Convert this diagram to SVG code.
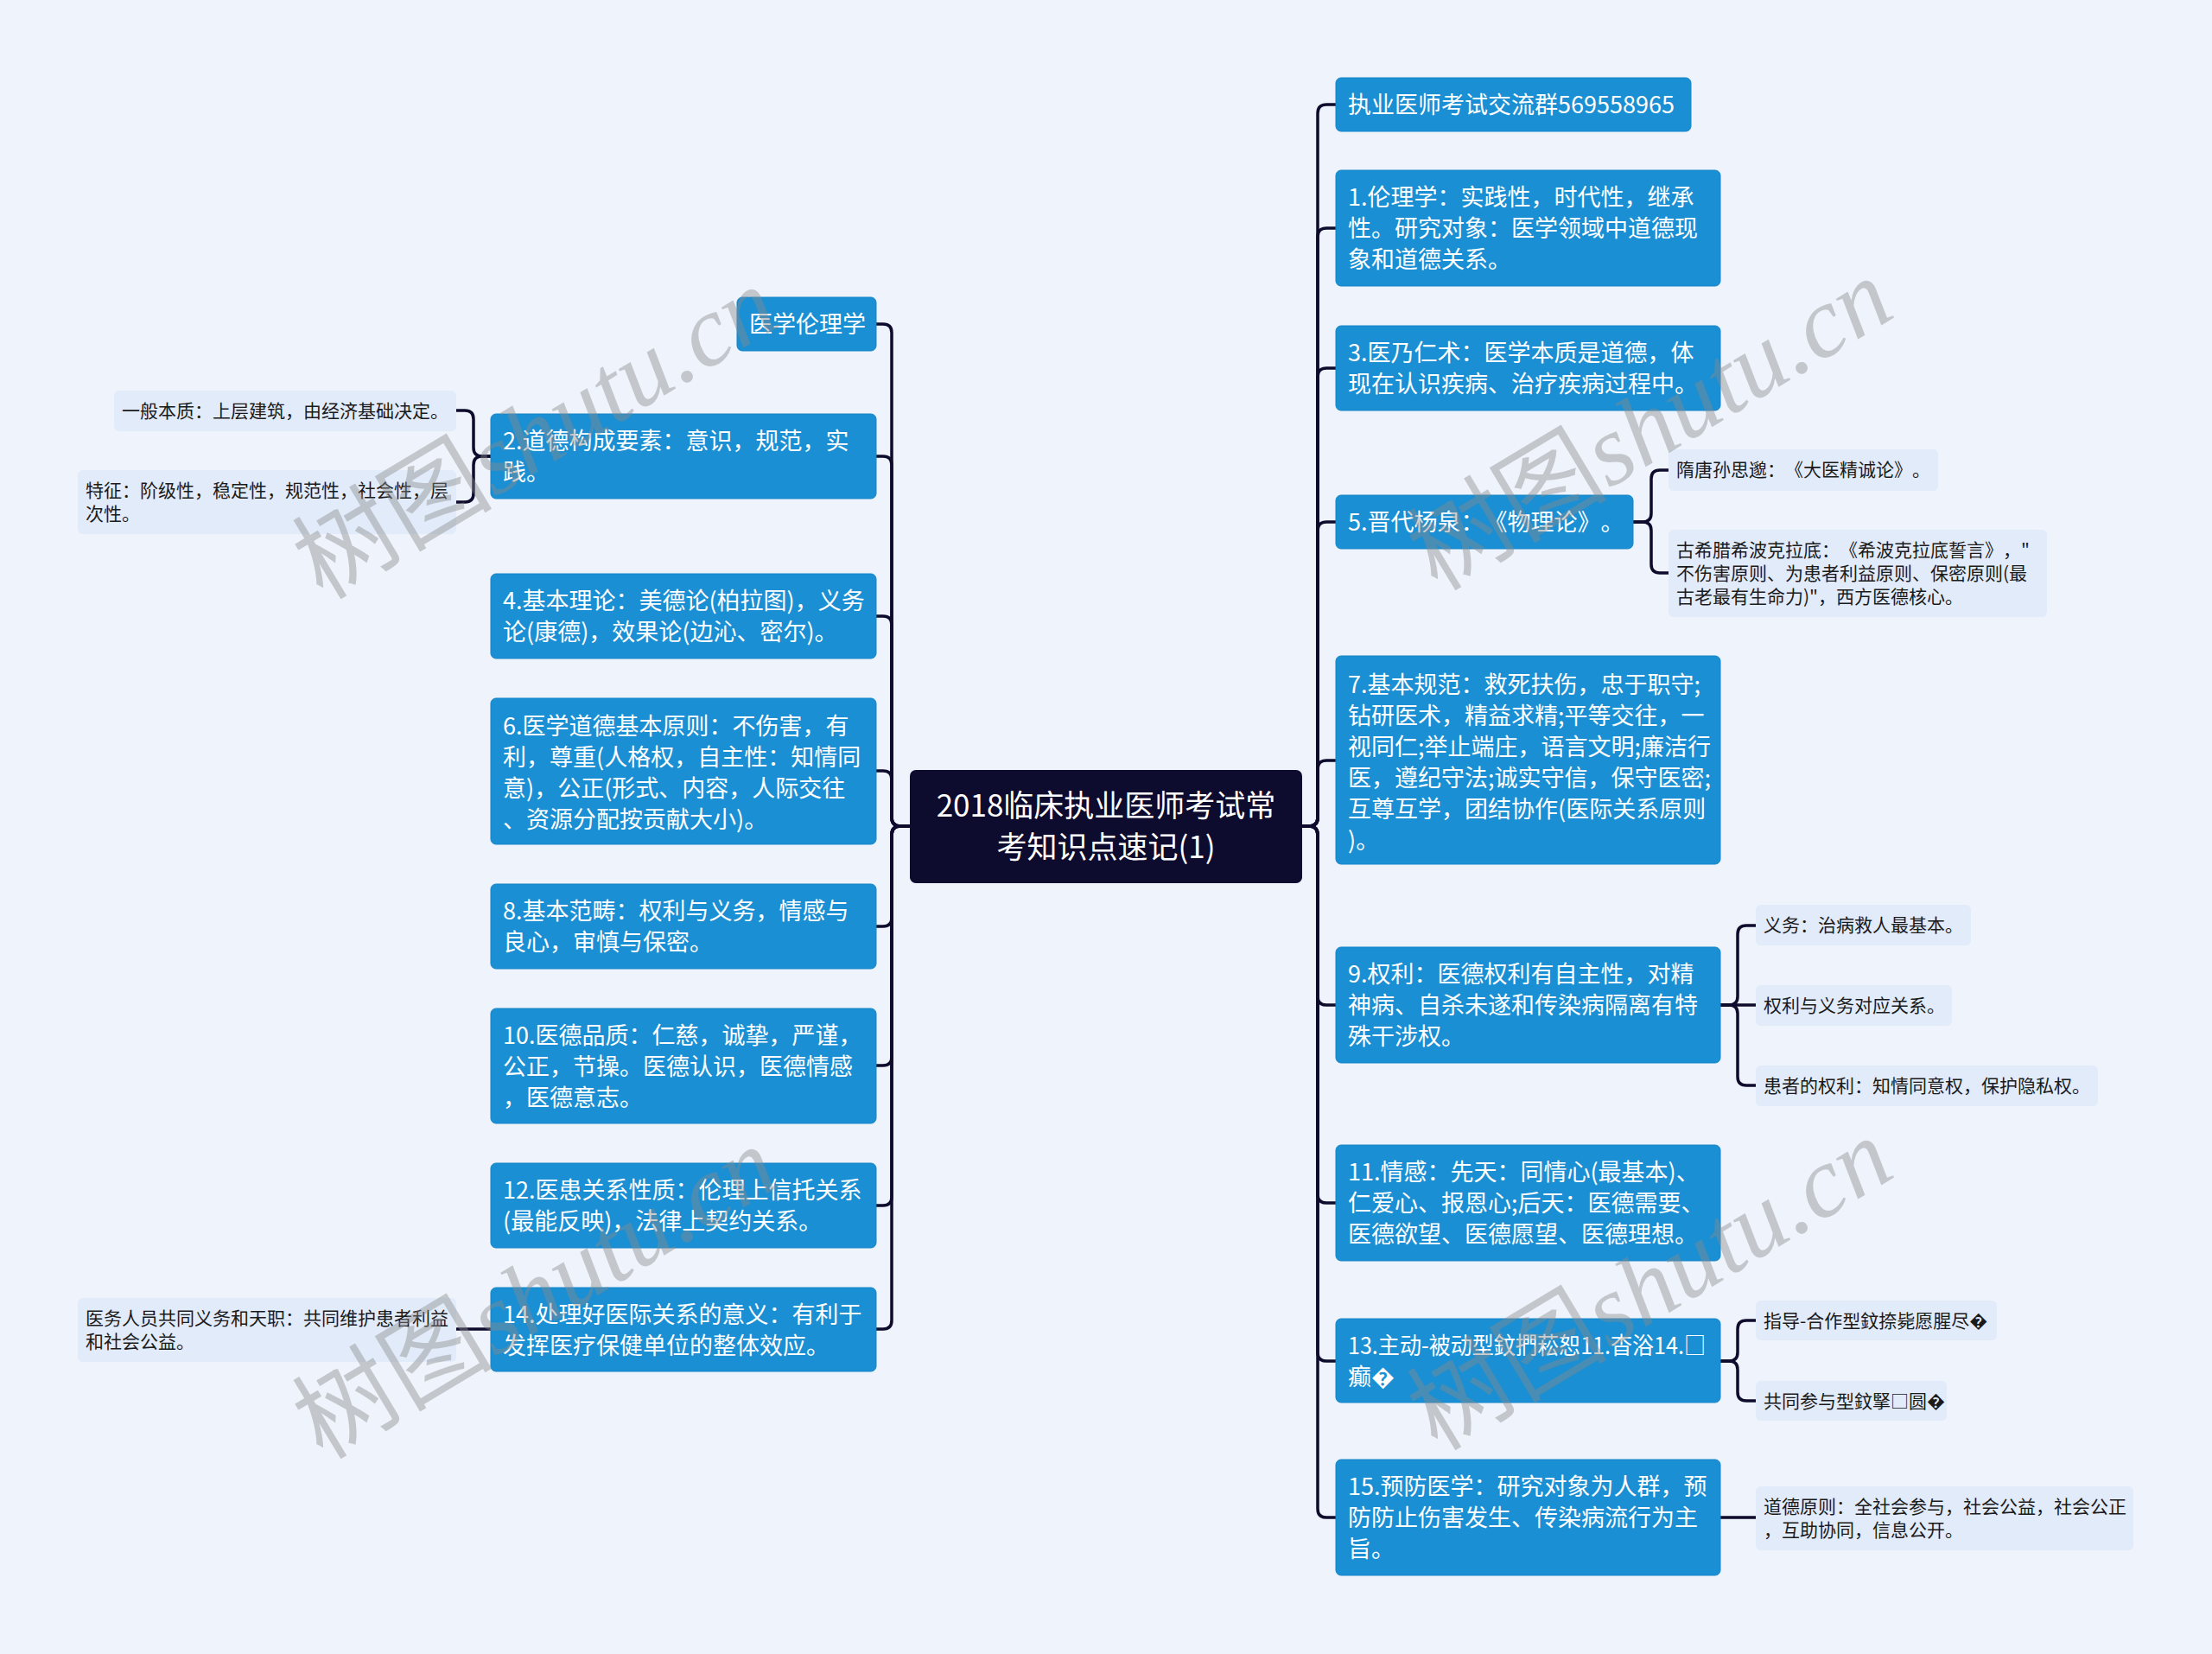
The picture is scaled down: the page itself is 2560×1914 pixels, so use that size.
<svg xmlns="http://www.w3.org/2000/svg" width="2560" height="1914" viewBox="0 0 2560 1914">
<style>
text{text-spacing-trim:space-all}
.bg{fill:#EEF3FC}
.nb{fill:#1A8FD3;stroke:#1785C6;stroke-width:1}
.lf{fill:#E2EBFA}
.ct{fill:#0D0B2E}
.conn{fill:none;stroke:#0E0B2C;stroke-width:3.5;stroke-linecap:round}
.t{font-family:"Noto Sans CJK SC","Noto Sans",sans-serif;font-size:27px;fill:#FFFFFF}
.tl{font-family:"Noto Sans CJK SC","Noto Sans",sans-serif;font-size:21px;fill:#1A1A1A}
.tc{font-family:"Noto Sans CJK SC","Noto Sans",sans-serif;font-size:35px;fill:#FFFFFF;text-anchor:middle}
.wm{font-size:116px;fill:#8A8A8A;opacity:0.42;text-anchor:middle}
.wmc{font-family:"Noto Sans CJK SC",sans-serif}
.wml{font-family:"Liberation Serif",serif;font-style:italic}
</style>
<rect class="bg" x="0" y="0" width="2560" height="1914"/>

<g id="connectors">
<path class="conn" d="M1053,956 H1042 Q1032,956 1032,946 V385 Q1032,375 1022,375 H1014"/>
<path class="conn" d="M1053,956 H1042 Q1032,956 1032,946 V538 Q1032,528 1022,528 H1014"/>
<path class="conn" d="M1053,956 H1042 Q1032,956 1032,946 V723 Q1032,713 1022,713 H1014"/>
<path class="conn" d="M1053,956 H1042 Q1032,956 1032,946 V902 Q1032,892 1022,892 H1014"/>
<path class="conn" d="M1053,956 H1042 Q1032,956 1032,966 V1062 Q1032,1072 1022,1072 H1014"/>
<path class="conn" d="M1053,956 H1042 Q1032,956 1032,966 V1223 Q1032,1233 1022,1233 H1014"/>
<path class="conn" d="M1053,956 H1042 Q1032,956 1032,966 V1385 Q1032,1395 1022,1395 H1014"/>
<path class="conn" d="M1053,956 H1042 Q1032,956 1032,966 V1528 Q1032,1538 1022,1538 H1014"/>

<path class="conn" d="M1507,956 H1515 Q1525,956 1525,946 V131 Q1525,121 1535,121 H1546"/>
<path class="conn" d="M1507,956 H1515 Q1525,956 1525,946 V274 Q1525,264 1535,264 H1546"/>
<path class="conn" d="M1507,956 H1515 Q1525,956 1525,946 V436 Q1525,426 1535,426 H1546"/>
<path class="conn" d="M1507,956 H1515 Q1525,956 1525,946 V614 Q1525,604 1535,604 H1546"/>
<path class="conn" d="M1507,956 H1515 Q1525,956 1525,946 V890 Q1525,880 1535,880 H1546"/>
<path class="conn" d="M1507,956 H1515 Q1525,956 1525,966 V1153 Q1525,1163 1535,1163 H1546"/>
<path class="conn" d="M1507,956 H1515 Q1525,956 1525,966 V1382 Q1525,1392 1535,1392 H1546"/>
<path class="conn" d="M1507,956 H1515 Q1525,956 1525,966 V1565 Q1525,1575 1535,1575 H1546"/>
<path class="conn" d="M1507,956 H1515 Q1525,956 1525,966 V1746 Q1525,1756 1535,1756 H1546"/>

<path class="conn" d="M568,528 H558 Q548,528 548,518 V485 Q548,475 538,475 H528"/>
<path class="conn" d="M568,528 H558 Q548,528 548,538 V571 Q548,581 538,581 H528"/>
<path class="conn" d="M568,1538 H528"/>

<path class="conn" d="M1890,604 H1901 Q1911,604 1911,594 V554 Q1911,544 1921,544 H1931"/>
<path class="conn" d="M1890,604 H1901 Q1911,604 1911,614 V653 Q1911,663 1921,663 H1931"/>

<path class="conn" d="M1991,1163 H2001 Q2011,1163 2011,1153 V1081 Q2011,1071 2021,1071 H2032"/>
<path class="conn" d="M1991,1163 H2032"/>
<path class="conn" d="M1991,1163 H2001 Q2011,1163 2011,1173 V1246 Q2011,1256 2021,1256 H2032"/>

<path class="conn" d="M1991,1575 H2001 Q2011,1575 2011,1565 V1538 Q2011,1528 2021,1528 H2032"/>
<path class="conn" d="M1991,1575 H2001 Q2011,1575 2011,1585 V1611 Q2011,1621 2021,1621 H2032"/>

<path class="conn" d="M1991,1756 H2032"/>
</g>

<g id="center">
<rect class="ct" x="1053" y="891" width="454" height="131" rx="7"/>
<text class="tc" x="1280" y="945">2018临床执业医师考试常</text>
<text class="tc" x="1280" y="993">考知识点速记(1)</text>
</g>

<g id="n-yxllx">
<rect class="nb" x="853" y="344" width="161" height="62" rx="6"/>
<text class="t" x="867" y="385">医学伦理学</text>
</g>
<g id="n2">
<rect class="nb" x="568" y="479" width="446" height="98" rx="6"/>
<text class="t" x="582" y="520">2.道德构成要素：意识，规范，实</text>
<text class="t" x="582" y="556">践。</text>
</g>
<g id="n4">
<rect class="nb" x="568" y="664" width="446" height="98" rx="6"/>
<text class="t" x="582" y="705">4.基本理论：美德论(柏拉图)，义务</text>
<text class="t" x="582" y="741">论(康德)，效果论(边沁、密尔)。</text>
</g>
<g id="n6">
<rect class="nb" x="568" y="808" width="446" height="169" rx="6"/>
<text class="t" x="582" y="850">6.医学道德基本原则：不伤害，有</text>
<text class="t" x="582" y="886">利，尊重(人格权，自主性：知情同</text>
<text class="t" x="582" y="922">意)，公正(形式、内容，人际交往</text>
<text class="t" x="582" y="958">、资源分配按贡献大小)。</text>
</g>
<g id="n8">
<rect class="nb" x="568" y="1023" width="446" height="98" rx="6"/>
<text class="t" x="582" y="1064">8.基本范畴：权利与义务，情感与</text>
<text class="t" x="582" y="1100">良心，审慎与保密。</text>
</g>
<g id="n10">
<rect class="nb" x="568" y="1167" width="446" height="133" rx="6"/>
<text class="t" x="582" y="1208">10.医德品质：仁慈，诚挚，严谨，</text>
<text class="t" x="582" y="1244">公正，节操。医德认识，医德情感</text>
<text class="t" x="582" y="1280">，医德意志。</text>
</g>
<g id="n12">
<rect class="nb" x="568" y="1346" width="446" height="98" rx="6"/>
<text class="t" x="582" y="1387">12.医患关系性质：伦理上信托关系</text>
<text class="t" x="582" y="1423">(最能反映)，法律上契约关系。</text>
</g>
<g id="n14">
<rect class="nb" x="568" y="1490" width="446" height="97" rx="6"/>
<text class="t" x="582" y="1531">14.处理好医际关系的意义：有利于</text>
<text class="t" x="582" y="1567">发挥医疗保健单位的整体效应。</text>
</g>

<g id="l2a">
<rect class="lf" x="132" y="452" width="396" height="47" rx="6"/>
<text class="tl" x="141" y="483">一般本质：上层建筑，由经济基础决定。</text>
</g>
<g id="l2b">
<rect class="lf" x="90" y="544" width="438" height="74" rx="6"/>
<text class="tl" x="99" y="575">特征：阶级性，稳定性，规范性，社会性，层</text>
<text class="tl" x="99" y="602">次性。</text>
</g>
<g id="l14">
<rect class="lf" x="90" y="1502" width="438" height="74" rx="6"/>
<text class="tl" x="99" y="1533">医务人员共同义务和天职：共同维护患者利益</text>
<text class="tl" x="99" y="1560">和社会公益。</text>
</g>

<g id="n-group">
<rect class="nb" x="1546" y="90" width="411" height="62" rx="6"/>
<text class="t" x="1560" y="131">执业医师考试交流群569558965</text>
</g>
<g id="n1">
<rect class="nb" x="1546" y="197" width="445" height="134" rx="6"/>
<text class="t" x="1560" y="238">1.伦理学：实践性，时代性，继承</text>
<text class="t" x="1560" y="274">性。研究对象：医学领域中道德现</text>
<text class="t" x="1560" y="310">象和道德关系。</text>
</g>
<g id="n3">
<rect class="nb" x="1546" y="377" width="445" height="98" rx="6"/>
<text class="t" x="1560" y="418">3.医乃仁术：医学本质是道德，体</text>
<text class="t" x="1560" y="454">现在认识疾病、治疗疾病过程中。</text>
</g>
<g id="n5">
<rect class="nb" x="1546" y="573" width="344" height="62" rx="6"/>
<text class="t" x="1560" y="614">5.晋代杨泉：《物理论》。</text>
</g>
<g id="n7">
<rect class="nb" x="1546" y="759" width="445" height="241" rx="6"/>
<text class="t" x="1560" y="802">7.基本规范：救死扶伤，忠于职守;</text>
<text class="t" x="1560" y="838">钻研医术，精益求精;平等交往，一</text>
<text class="t" x="1560" y="874">视同仁;举止端庄，语言文明;廉洁行</text>
<text class="t" x="1560" y="910">医，遵纪守法;诚实守信，保守医密;</text>
<text class="t" x="1560" y="946">互尊互学，团结协作(医际关系原则</text>
<text class="t" x="1560" y="982">)。</text>
</g>
<g id="n9">
<rect class="nb" x="1546" y="1096" width="445" height="134" rx="6"/>
<text class="t" x="1560" y="1137">9.权利：医德权利有自主性，对精</text>
<text class="t" x="1560" y="1173">神病、自杀未遂和传染病隔离有特</text>
<text class="t" x="1560" y="1209">殊干涉权。</text>
</g>
<g id="n11">
<rect class="nb" x="1546" y="1325" width="445" height="134" rx="6"/>
<text class="t" x="1560" y="1366">11.情感：先天：同情心(最基本)、</text>
<text class="t" x="1560" y="1402">仁爱心、报恩心;后天：医德需要、</text>
<text class="t" x="1560" y="1438">医德欲望、医德愿望、医德理想。</text>
</g>
<g id="n13">
<rect class="nb" x="1546" y="1526" width="445" height="97" rx="6"/>
<text class="t" x="1560" y="1567" textLength="414" lengthAdjust="spacingAndGlyphs">13.主动-被动型鈫捫菘恕11.杳浴14.□</text>
<text class="t" x="1560" y="1603">癫�</text>
</g>
<g id="n15">
<rect class="nb" x="1546" y="1689" width="445" height="134" rx="6"/>
<text class="t" x="1560" y="1730">15.预防医学：研究对象为人群，预</text>
<text class="t" x="1560" y="1766">防防止伤害发生、传染病流行为主</text>
<text class="t" x="1560" y="1802">旨。</text>
</g>

<g id="l5a">
<rect class="lf" x="1931" y="520" width="312" height="48" rx="6"/>
<text class="tl" x="1940" y="551">隋唐孙思邈：《大医精诚论》。</text>
</g>
<g id="l5b">
<rect class="lf" x="1931" y="613" width="438" height="101" rx="6"/>
<text class="tl" x="1940" y="644">古希腊希波克拉底：《希波克拉底誓言》，"</text>
<text class="tl" x="1940" y="671">不伤害原则、为患者利益原则、保密原则(最</text>
<text class="tl" x="1940" y="698">古老最有生命力)"，西方医德核心。</text>
</g>
<g id="l9a">
<rect class="lf" x="2032" y="1047" width="249" height="47" rx="6"/>
<text class="tl" x="2041" y="1078">义务：治病救人最基本。</text>
</g>
<g id="l9b">
<rect class="lf" x="2032" y="1140" width="227" height="47" rx="6"/>
<text class="tl" x="2041" y="1171">权利与义务对应关系。</text>
</g>
<g id="l9c">
<rect class="lf" x="2032" y="1233" width="396" height="47" rx="6"/>
<text class="tl" x="2041" y="1264">患者的权利：知情同意权，保护隐私权。</text>
</g>
<g id="l13a">
<rect class="lf" x="2032" y="1505" width="279" height="46" rx="6"/>
<text class="tl" x="2041" y="1536">指导-合作型鈫捺毙愿腥尽�</text>
</g>
<g id="l13b">
<rect class="lf" x="2032" y="1598" width="221" height="46" rx="6"/>
<text class="tl" x="2041" y="1629">共同参与型鈫掔□圆�</text>
</g>
<g id="l15">
<rect class="lf" x="2032" y="1720" width="437" height="74" rx="6"/>
<text class="tl" x="2041" y="1751">道德原则：全社会参与，社会公益，社会公正</text>
<text class="tl" x="2041" y="1778">，互助协同，信息公开。</text>
</g>

<g id="watermarks">
<text class="wm" transform="translate(640,535) rotate(-31)"><tspan class="wmc">树图</tspan><tspan class="wml">shutu.cn</tspan></text>
<text class="wm" transform="translate(640,1530) rotate(-31)"><tspan class="wmc">树图</tspan><tspan class="wml">shutu.cn</tspan></text>
<text class="wm" transform="translate(1930,525) rotate(-31)"><tspan class="wmc">树图</tspan><tspan class="wml">shutu.cn</tspan></text>
<text class="wm" transform="translate(1930,1520) rotate(-31)"><tspan class="wmc">树图</tspan><tspan class="wml">shutu.cn</tspan></text>
</g>
</svg>
